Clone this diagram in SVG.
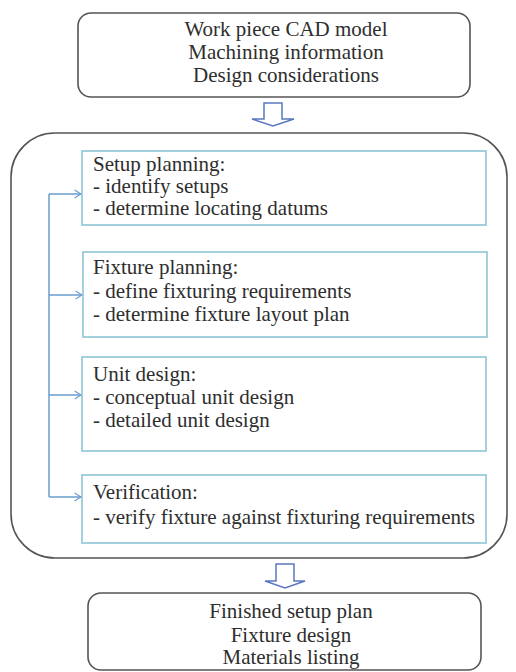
<svg xmlns="http://www.w3.org/2000/svg" width="516" height="672" viewBox="0 0 516 672">
<defs>
<style>
.outer{fill:#fff;stroke:#555;stroke-width:1.6}
.inner{fill:#fff;stroke:#8ec5d6;stroke-width:1.6}
.t{font-family:"Liberation Serif","Times New Roman",serif;font-size:21px;fill:#2e2e2e}
.c{text-anchor:middle}
.conn{fill:none;stroke:#6a9ccf;stroke-width:1.5}
.hollow{fill:#fff;stroke:#5a78c0;stroke-width:1.5;stroke-linejoin:miter}
</style>
<marker id="chev" viewBox="0 0 10 12" refX="9" refY="6" markerWidth="8" markerHeight="10" markerUnits="userSpaceOnUse" orient="auto">
<path d="M1,1 L9,6 L1,11" fill="none" stroke="#6a9ccf" stroke-width="1.5"/>
</marker>
</defs>
<rect width="516" height="672" fill="#fff"/>

<g id="input">
<rect class="outer" x="78" y="13" width="392" height="84" rx="13"/>
<text class="t c" x="286" y="36">Work piece CAD model</text>
<text class="t c" x="286" y="59">Machining information</text>
<text class="t c" x="286" y="82">Design considerations</text>
</g>

<g id="process">
<rect class="outer" x="11" y="133" width="496" height="425" rx="44"/>
</g>

<g id="setup">
<rect class="inner" x="82" y="151" width="404" height="74"/>
<text class="t" x="93" y="171">Setup planning:</text>
<text class="t" x="93" y="193">- identify setups</text>
<text class="t" x="93" y="215">- determine locating datums</text>
</g>

<g id="fixture">
<rect class="inner" x="83" y="252" width="404" height="85"/>
<text class="t" x="93" y="274">Fixture planning:</text>
<text class="t" x="93" y="298">- define fixturing requirements</text>
<text class="t" x="93" y="321">- determine fixture layout plan</text>
</g>

<g id="unit">
<rect class="inner" x="82" y="357" width="404" height="94"/>
<text class="t" x="93" y="381">Unit design:</text>
<text class="t" x="93" y="404">- conceptual unit design</text>
<text class="t" x="93" y="427">- detailed unit design</text>
</g>

<g id="verification">
<rect class="inner" x="82" y="475" width="404" height="68"/>
<text class="t" x="93" y="499">Verification:</text>
<text class="t" x="93" y="524">- verify fixture against fixturing requirements</text>
</g>

<g id="output">
<rect class="outer" x="88" y="593" width="393" height="77" rx="13"/>
<text class="t c" x="291" y="618">Finished setup plan</text>
<text class="t c" x="291" y="642">Fixture design</text>
<text class="t c" x="291" y="664">Materials listing</text>
</g>

<g id="connectors">
<path class="hollow" d="M264,103 L282,103 L282,119 L294,119 L273,126 L252,119 L264,119 Z"/>
<path class="hollow" d="M276,564 L294,564 L294,581 L305,581 L285,588 L265,581 L276,581 Z"/>
<path class="conn" d="M49,194 L49,497"/>
<path class="conn" d="M49,194 L81,194" marker-end="url(#chev)"/>
<path class="conn" d="M49,295 L82,295" marker-end="url(#chev)"/>
<path class="conn" d="M49,395 L81,395" marker-end="url(#chev)"/>
<path class="conn" d="M49,497 L81,497" marker-end="url(#chev)"/>
</g>
</svg>
